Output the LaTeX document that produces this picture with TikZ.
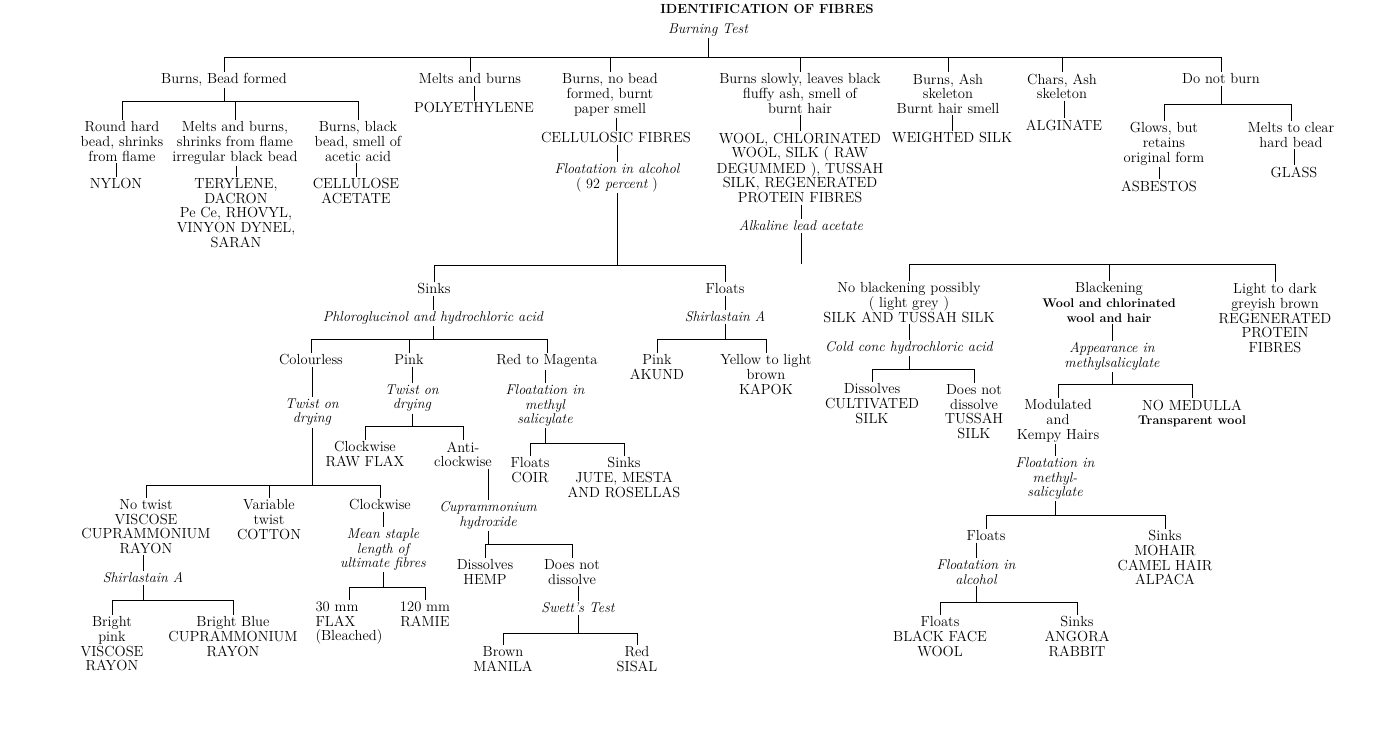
\documentclass[tikz,border=0pt]{standalone}
\usepackage{tikz}
\newcommand{\boldsmall}[1]{{\fontsize{12.6}{14.6}\selectfont\bfseries #1}}
\begin{document}
\begin{tikzpicture}[x=1pt, y=-1pt,
    every node/.style={align=center, anchor=north, inner sep=1.5pt,
                       font=\fontsize{14.6}{14.6}\selectfont},
    test/.style={font=\fontsize{14.2}{14.6}\selectfont\itshape},
    link/.style={line width=0.6pt}
  ]
  \useasboundingbox (0,0) rectangle (1373,750);

  % title and first split
  \node[font=\fontsize{13.2}{14}\selectfont\bfseries] (title) at (767,3) {IDENTIFICATION OF FIBRES};
  \node[test] (burntest) at (708,22) {Burning Test};
  \coordinate (bar0) at (0,57);

  \node (bead)   at (224,72)  {Burns, Bead formed};
  \node (melt)   at (470,72)  {Melts and burns};
  \node (nobead) at (610,72)  {Burns, no bead\\formed, burnt\\paper smell};
  \node (slow)   at (800,72)  {Burns slowly, leaves black\\fluffy ash, smell of\\burnt hair};
  \node (ash)    at (948,72)  {Burns, Ash\\skeleton\\Burnt hair smell};
  \node (chars)  at (1062,72) {Chars, Ash\\skeleton};
  \node (noburn) at (1221,72) {Do not burn};

  \draw[link] (burntest.south) -- (burntest.south |- bar0);
  \draw[link] (bead.north |- bar0) -- (noburn.north |- bar0);
  \foreach \n in {bead,melt,nobead,slow,ash,chars,noburn}
    \draw[link] (\n.north |- bar0) -- (\n.north);

  % burns, bead formed
  \coordinate (barA) at (0,101);
  \node (round)    at (122,120) {Round hard\\bead, shrinks\\from flame};
  \node (shrink)   at (235,120) {Melts and burns,\\shrinks from flame\\irregular black bead};
  \node (black)    at (358,120) {Burns, black\\bead, smell of\\acetic acid};
  \node (nylon)    at (116,177) {NYLON};
  \node (terylene) at (236,177) {TERYLENE,\\DACRON\\Pe Ce, RHOVYL,\\VINYON DYNEL,\\SARAN};
  \node (acetate)  at (356,177) {CELLULOSE\\ACETATE};

  \draw[link] (bead.south) -- (bead.south |- barA);
  \draw[link] (round.north |- barA) -- (black.north |- barA);
  \foreach \n in {round,shrink,black}
    \draw[link] (\n.north |- barA) -- (\n.north);
  \draw[link] (nylon.north |- round.south) -- (nylon.north);
  \draw[link] (terylene.north |- shrink.south) -- (terylene.north);
  \draw[link] (acetate.north |- black.south) -- (acetate.north);

  % single results
  \node (poly)     at (474,101) {POLYETHYLENE};
  \node (cellu)    at (616,131) {CELLULOSIC FIBRES};
  \node[test] (alcohol) at (617,162) {Floatation in alcohol\\{\upshape( 92} percent {\upshape)}};
  \node (wool)     at (800,131) {WOOL, CHLORINATED\\WOOL, SILK ( RAW\\DEGUMMED ), TUSSAH\\SILK, REGENERATED\\PROTEIN FIBRES};
  \node[test] (lead) at (801,219) {Alkaline lead acetate};
  \node (weighted) at (952,131) {WEIGHTED SILK};
  \node (alginate) at (1064,118) {ALGINATE};

  \draw[link] (poly.north |- melt.south) -- (poly.north);
  \draw[link] (cellu.north |- nobead.south) -- (cellu.north);
  \draw[link] (alcohol.north |- cellu.south) -- (alcohol.north);
  \draw[link] (wool.north |- slow.south) -- (wool.north);
  \draw[link] (lead.north |- wool.south) -- (lead.north);
  \draw[link] (weighted.north |- ash.south) -- (weighted.north);
  \draw[link] (alginate.north |- chars.south) -- (alginate.north);

  % do not burn
  \coordinate (barB) at (0,104);
  \node (glows)    at (1164,121) {Glows, but\\retains\\original form};
  \node (clear)    at (1291,121) {Melts to clear\\hard bead};
  \node (asbestos) at (1159,179) {ASBESTOS};
  \node (glass)    at (1294,165) {GLASS};

  \draw[link] (noburn.south) -- (noburn.south |- barB);
  \draw[link] (glows.north |- barB) -- (clear.north |- barB);
  \foreach \n in {glows,clear}
    \draw[link] (\n.north |- barB) -- (\n.north);
  \draw[link] (asbestos.north |- glows.south) -- (asbestos.north);
  \draw[link] (glass.north |- clear.south) -- (glass.north);

  % cellulosic fibres: sinks / floats
  \coordinate (barC) at (0,265);
  \node (sinksA)       at (434,282) {Sinks};
  \node[test] (phloro) at (433,310) {Phloroglucinol and hydrochloric acid};
  \node (floatsA)      at (725,282) {Floats};
  \node[test] (shirlA) at (725,310) {Shirlastain A};

  \draw[link] (alcohol.south) -- (alcohol.south |- barC);
  \draw[link] (sinksA.north |- barC) -- (floatsA.north |- barC);
  \foreach \n in {sinksA,floatsA}
    \draw[link] (\n.north |- barC) -- (\n.north);
  \draw[link] (phloro.north |- sinksA.south) -- (phloro.north);
  \draw[link] (shirlA.north |- floatsA.south) -- (shirlA.north);

  % phloroglucinol
  \coordinate (barD) at (0,339);
  \node (colourless)   at (311,353) {Colourless};
  \node[test] (twistA) at (312,397) {Twist on\\drying};
  \node (pink)         at (409,353) {Pink};
  \node[test] (twistB) at (412,383) {Twist on\\drying};
  \node (magenta)      at (547,353) {Red to Magenta};
  \node[test] (methyl) at (545,383) {Floatation in\\methyl\\salicylate};

  \draw[link] (phloro.south) -- (phloro.south |- barD);
  \draw[link] (colourless.north |- barD) -- (magenta.north |- barD);
  \foreach \n in {colourless,pink,magenta}
    \draw[link] (\n.north |- barD) -- (\n.north);
  \draw[link] (twistA.north |- colourless.south) -- (twistA.north);
  \draw[link] (twistB.north |- pink.south) -- (twistB.north);
  \draw[link] (methyl.north |- magenta.south) -- (methyl.north);

  % shirlastain A (floats)
  \node (akund) at (657,353) {Pink\\AKUND};
  \node (kapok) at (766,353) {Yellow to light\\brown\\KAPOK};

  \draw[link] (shirlA.south) -- (shirlA.south |- barD);
  \draw[link] (akund.north |- barD) -- (kapok.north |- barD);
  \foreach \n in {akund,kapok}
    \draw[link] (\n.north |- barD) -- (\n.north);

  % colourless: twist on drying
  \coordinate (barE) at (0,485);
  \node (notwist)      at (146,498) {No twist\\VISCOSE\\CUPRAMMONIUM\\RAYON};
  \node[test] (shirlB) at (143,571) {Shirlastain A};
  \node (cotton)       at (269,498) {Variable\\twist\\COTTON};
  \node (clockA)       at (380,498) {Clockwise};
  \node[test] (staple) at (383,527) {Mean staple\\length of\\ultimate fibres};

  \draw[link] (twistA.south) -- (twistA.south |- barE);
  \draw[link] (notwist.north |- barE) -- (clockA.north |- barE);
  \foreach \n in {notwist,cotton,clockA}
    \draw[link] (\n.north |- barE) -- (\n.north);
  \draw[link] (shirlB.north |- notwist.south) -- (shirlB.north);
  \draw[link] (staple.north |- clockA.south) -- (staple.north);

  \coordinate (barF) at (0,600);
  \node (viscose) at (112,615) {Bright\\pink\\VISCOSE\\RAYON};
  \node (cupra)   at (233,615) {Bright Blue\\CUPRAMMONIUM\\RAYON};

  \draw[link] (shirlB.south) -- (shirlB.south |- barF);
  \draw[link] (viscose.north |- barF) -- (cupra.north |- barF);
  \foreach \n in {viscose,cupra}
    \draw[link] (\n.north |- barF) -- (\n.north);

  \coordinate (barG) at (0,587);
  \node[align=left] (flax) at (349,600) {30 mm\\FLAX\\(Bleached)};
  \node (ramie)            at (425,600) {120 mm\\RAMIE};

  \draw[link] (staple.south) -- (staple.south |- barG);
  \draw[link] (flax.north |- barG) -- (ramie.north |- barG);
  \foreach \n in {flax,ramie}
    \draw[link] (\n.north |- barG) -- (\n.north);

  % pink: twist on drying
  \coordinate (barH) at (0,426);
  \node (rawflax)       at (365,440) {Clockwise\\RAW FLAX};
  \node (anti)          at (463,440) {Anti-\\clockwise};
  \node[test] (cuprhyd) at (488,500) {Cuprammonium\\hydroxide};

  \draw[link] (twistB.south) -- (twistB.south |- barH);
  \draw[link] (rawflax.north |- barH) -- (anti.north |- barH);
  \foreach \n in {rawflax,anti}
    \draw[link] (\n.north |- barH) -- (\n.north);
  \draw[link] (cuprhyd.north |- anti.south) -- (cuprhyd.north);

  \coordinate (barI) at (0,544);
  \node (hemp)        at (485,558) {Dissolves\\HEMP};
  \node (notdiss)     at (572,558) {Does not\\dissolve};
  \node[test] (swett) at (578,601) {Swett's Test};

  \draw[link] (cuprhyd.south) -- (cuprhyd.south |- barI);
  \draw[link] (hemp.north |- barI) -- (notdiss.north |- barI);
  \foreach \n in {hemp,notdiss}
    \draw[link] (\n.north |- barI) -- (\n.north);
  \draw[link] (swett.north |- notdiss.south) -- (swett.north);

  \coordinate (barJ) at (0,633);
  \node (manila) at (503,645) {Brown\\MANILA};
  \node (sisal)  at (637,645) {Red\\SISAL};

  \draw[link] (swett.south) -- (swett.south |- barJ);
  \draw[link] (manila.north |- barJ) -- (sisal.north |- barJ);
  \foreach \n in {manila,sisal}
    \draw[link] (\n.north |- barJ) -- (\n.north);

  % red to magenta
  \coordinate (barK) at (0,443);
  \node (coir) at (530,456) {Floats\\COIR};
  \node (jute) at (624,456) {Sinks\\JUTE, MESTA\\AND ROSELLAS};

  \draw[link] (methyl.south) -- (methyl.south |- barK);
  \draw[link] (coir.north |- barK) -- (jute.north |- barK);
  \foreach \n in {coir,jute}
    \draw[link] (\n.north |- barK) -- (\n.north);

  % alkaline lead acetate
  \coordinate (barL) at (0,264);
  \node (noblack)       at (909,281)  {No blackening possibly\\( light grey )\\SILK AND TUSSAH SILK};
  \node[test] (coldhcl) at (909,340)  {Cold conc hydrochloric acid};
  \node (blacken)       at (1109,281) {Blackening\\\boldsmall{Wool and chlorinated}\\\boldsmall{wool and hair}};
  \node[test] (appear)  at (1112,341) {Appearance in\\methylsalicylate};
  \node (regen)         at (1275,282) {Light to dark\\greyish brown\\REGENERATED\\PROTEIN\\FIBRES};

  \draw[link] (lead.south) -- (lead.south |- barL);
  \draw[link] (noblack.north |- barL) -- (regen.north |- barL);
  \foreach \n in {noblack,blacken,regen}
    \draw[link] (\n.north |- barL) -- (\n.north);
  \draw[link] (coldhcl.north |- noblack.south) -- (coldhcl.north);
  \draw[link] (appear.north |- blacken.south) -- (appear.north);

  \coordinate (barM) at (0,369);
  \node (cultiv) at (872,382) {Dissolves\\CULTIVATED\\SILK};
  \node (tussah) at (974,383) {Does not\\dissolve\\TUSSAH\\SILK};

  \draw[link] (coldhcl.south) -- (coldhcl.south |- barM);
  \draw[link] (cultiv.north |- barM) -- (tussah.north |- barM);
  \foreach \n in {cultiv,tussah}
    \draw[link] (\n.north |- barM) -- (\n.north);

  % blackening: appearance in methylsalicylate
  \coordinate (barN) at (0,384);
  \node (kempy)         at (1058,398) {Modulated\\and\\Kempy Hairs};
  \node[test] (methylB) at (1055,456) {Floatation in\\methyl-\\salicylate};
  \node (medulla)       at (1192,398) {NO MEDULLA\\\boldsmall{Transparent wool}};

  \draw[link] (appear.south) -- (appear.south |- barN);
  \draw[link] (kempy.north |- barN) -- (medulla.north |- barN);
  \foreach \n in {kempy,medulla}
    \draw[link] (\n.north |- barN) -- (\n.north);
  \draw[link] (methylB.north |- kempy.south) -- (methylB.north);

  \coordinate (barO) at (0,515);
  \node (floatsB)        at (986,529)  {Floats};
  \node[test] (alcoholB) at (976,558)  {Floatation in\\alcohol};
  \node (mohair)         at (1165,529) {Sinks\\MOHAIR\\CAMEL HAIR\\ALPACA};

  \draw[link] (methylB.south) -- (methylB.south |- barO);
  \draw[link] (floatsB.north |- barO) -- (mohair.north |- barO);
  \foreach \n in {floatsB,mohair}
    \draw[link] (\n.north |- barO) -- (\n.north);
  \draw[link] (alcoholB.north |- floatsB.south) -- (alcoholB.north);

  \coordinate (barP) at (0,602);
  \node (blackface) at (940,615)  {Floats\\BLACK FACE\\WOOL};
  \node (angora)    at (1077,615) {Sinks\\ANGORA\\RABBIT};

  \draw[link] (alcoholB.south) -- (alcoholB.south |- barP);
  \draw[link] (blackface.north |- barP) -- (angora.north |- barP);
  \foreach \n in {blackface,angora}
    \draw[link] (\n.north |- barP) -- (\n.north);
\end{tikzpicture}
\end{document}
